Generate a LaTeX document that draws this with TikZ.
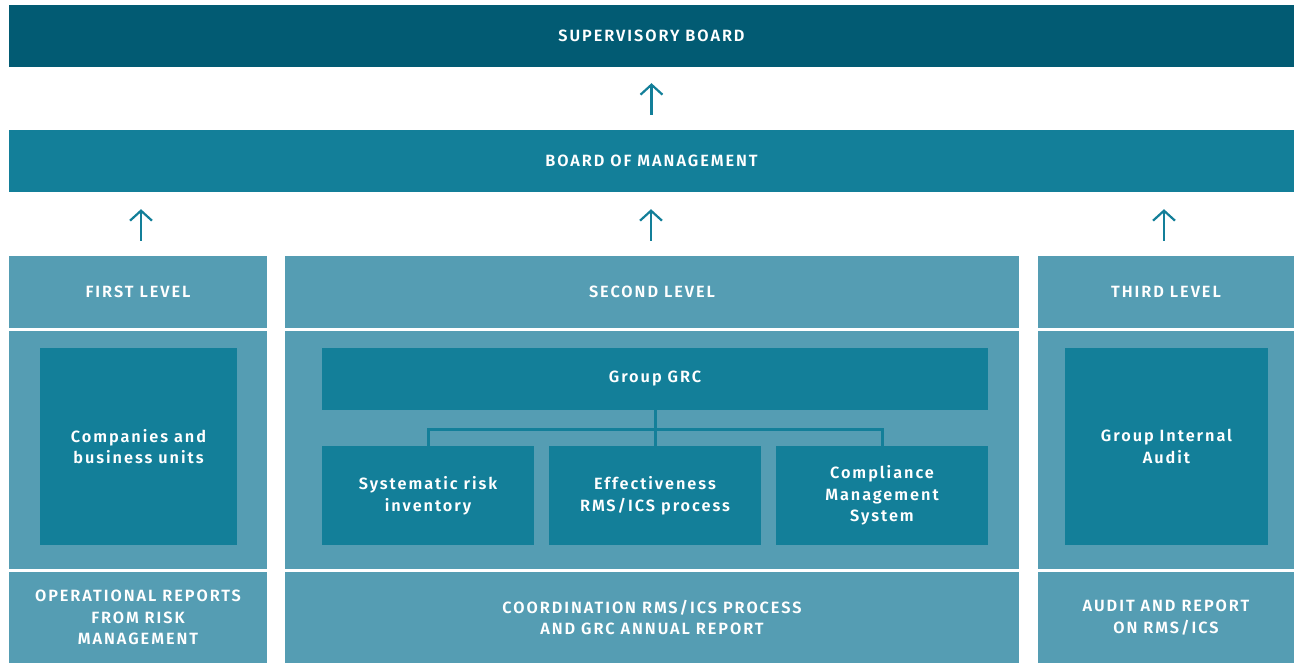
\documentclass[tikz,border=0pt]{standalone}
\usepackage{fontspec}
\setmainfont{Fira Sans}[UprightFont={Fira Sans SemiBold}, BoldFont={Fira Sans Bold}, LetterSpace=12]
\usetikzlibrary{arrows.meta}
\definecolor{deepteal}{HTML}{025B73}
\definecolor{midteal}{HTML}{137F99}
\definecolor{paleteal}{HTML}{559DB3}
\tikzset{
  x=1pt, y=-1pt,
  panel/.style={fill=#1, draw=none, inner sep=0pt, text=white, align=center,
    font=\fontsize{16.3}{21.5}\selectfont},
  uparrow/.style={draw=midteal, line width=2.2pt,
    -{Straight Barb[length=10pt,width=22pt,line width=2.2pt]}},
  link/.style={draw=midteal, line width=3pt}
}
\newcommand{\panelat}[6]{% name, colour, x0, y0, x1, y1
  \node[panel=#2, minimum width={#5-#3}, minimum height={#6-#4}] (#1) at ({(#3+#5)/2},{(#4+#6)/2})}
\begin{document}
\begin{tikzpicture}
\useasboundingbox[fill=white] (0,0) rectangle (1294,663);

% top governance bars
\panelat{sup}{deepteal}{9}{5}{1294}{67} {SUPERVISORY BOARD};
\panelat{bom}{midteal}{9}{130}{1294}{192} {BOARD OF MANAGEMENT};

% level headers
\panelat{h1}{paleteal}{9}{256}{267}{328} {FIRST LEVEL};
\panelat{h2}{paleteal}{285}{256}{1019}{328} {SECOND LEVEL};
\panelat{h3}{paleteal}{1038}{256}{1294}{328} {THIRD LEVEL};

% level bodies
\panelat{b1}{paleteal}{9}{331}{267}{569} {};
\panelat{b2}{paleteal}{285}{331}{1019}{569} {};
\panelat{b3}{paleteal}{1038}{331}{1294}{569} {};

% level footers
\panelat{f1}{paleteal}{9}{572}{267}{663} {OPERATIONAL REPORTS\\FROM RISK\\MANAGEMENT};
\panelat{f2}{paleteal}{285}{572}{1019}{663} {COORDINATION RMS/ICS PROCESS\\AND GRC ANNUAL REPORT};
\panelat{f3}{paleteal}{1038}{572}{1294}{663} {AUDIT AND REPORT\\ON RMS/ICS};

% units inside the levels
\panelat{cbu}{midteal}{40}{348}{237}{545} {Companies and\\business units};
\panelat{grc}{midteal}{322}{348}{988}{410} {Group GRC};
\panelat{sys}{midteal}{322}{446}{534}{545} {Systematic risk\\inventory};
\panelat{eff}{midteal}{549}{446}{761}{545} {Effectiveness\\RMS/ICS process};
\panelat{cms}{midteal}{776}{446}{988}{545} {Compliance\\Management\\System};
\panelat{gia}{midteal}{1065}{348}{1268}{545} {Group Internal\\Audit};

% Group GRC branches
\coordinate (bus) at (655,429.5);
\draw[link] (grc.south) -- (eff.north);
\draw[link] (sys.north) |- (bus) -| (cms.north);

% reporting arrows
\draw[uparrow, shorten <=15pt, shorten >=16pt] (bom.north -| sup.south) -- (sup.south);
\draw[uparrow, shorten <=15pt, shorten >=17pt] ([xshift=3pt]h1.north) -- ([xshift=3pt]h1.north |- bom.south);
\draw[uparrow, shorten <=15pt, shorten >=17pt] ([xshift=-1pt]h2.north) -- ([xshift=-1pt]h2.north |- bom.south);
\draw[uparrow, shorten <=15pt, shorten >=17pt] ([xshift=-2pt]h3.north) -- ([xshift=-2pt]h3.north |- bom.south);
\end{tikzpicture}
\end{document}
